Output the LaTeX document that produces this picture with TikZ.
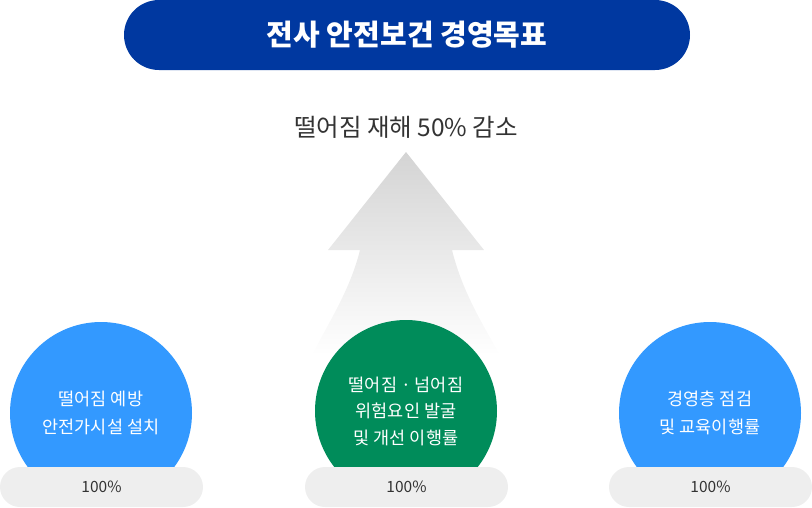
\documentclass[tikz,border=0pt]{standalone}
\usepackage{fontspec}
\setmainfont{Noto Sans CJK KR}
\usetikzlibrary{positioning}
\definecolor{titleblue}{RGB}{0,56,160}
\definecolor{goalblue}{RGB}{51,153,255}
\definecolor{goalgreen}{RGB}{0,140,90}
\definecolor{pillgray}{RGB}{238,238,238}
\definecolor{textgray}{RGB}{51,51,51}
\tikzset{
  goal/.style={circle,minimum size=182pt,inner sep=0pt,text=white,align=center,
    font=\fontsize{17.5}{28}\selectfont},
  rate/.style={rounded corners=20pt,fill=pillgray,minimum width=203pt,minimum height=40pt,
    inner sep=0pt,text=textgray,font=\fontsize{15.5}{17}\selectfont}
}
\begin{document}
\begin{tikzpicture}[x=1pt,y=-1pt]
  \useasboundingbox (0,0) rectangle (812,507);
  % title
  \node[fill=titleblue,rounded corners=35pt,minimum width=566pt,minimum height=70pt,
    text=white,font=\fontsize{29}{32}\selectfont\bfseries] (title) at (407,35) {전사 안전보건 경영목표};
  \node[text=textgray,font=\fontsize{24.5}{28}\selectfont] (target) at (406,127) {떨어짐 재해 50\% 감소};
  % arrow
  \shade[top color=black!17,bottom color=white]
    (406,152) -- (484,250) -- (452,250) .. controls (462,290) and (480,320) .. (500,355)
    -- (312,355) .. controls (330,320) and (350,290) .. (360,250) -- (328,250) -- cycle;
  % goals
  \node[goal,fill=goalblue] (fall) at (101,413) {떨어짐 예방\\안전가시설 설치};
  \node[goal,fill=goalgreen,font=\fontsize{17.5}{26.5}\selectfont] (risk) at (406,411) {떨어짐 · 넘어짐\\위험요인 발굴\\및 개선 이행률};
  \node[goal,fill=goalblue] (edu) at (710,413) {경영층 점검\\및 교육이행률};
  % rates
  \node[rate] (fallrate) at (101.5,487) {100\%};
  \node[rate] (riskrate) at (406.5,487) {100\%};
  \node[rate] (edurate) at (710.5,487) {100\%};
\end{tikzpicture}
\end{document}
